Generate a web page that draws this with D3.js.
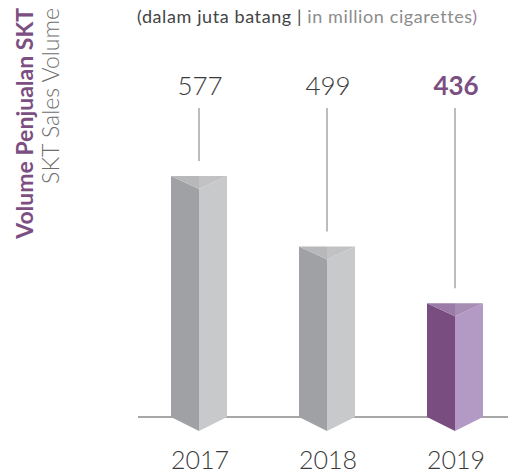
<!DOCTYPE html>
<html>
<head>
<meta charset="utf-8">
<script src="https://cdn.jsdelivr.net/npm/d3@7"></script>
<style>
  html, body { margin: 0; padding: 0; background: #fff; }
  svg { display: block; }
  text { font-family: Lato, "Open Sans", sans-serif; }
</style>
</head>
<body>
<svg id="chart" width="513" height="475"></svg>
<script>
const years = ["2017", "2018", "2019"];
const volumes = [577, 499, 436];
const highlight = [false, false, true];
const titleId = "Volume Penjualan SKT";
const titleEn = "SKT Sales Volume";
const unitId = "(dalam juta batang | ";
const unitEn = "in million cigarettes";

const svg = d3.select("#chart");
const baseY = 417;

const x = d3.scalePoint().domain(years).range([199, 455]);
const y = d3.scaleLinear().domain([310, 577]).range([baseY, 176]);

const half = 28, capDepth = 13, tipDepth = 14;

const palette = {
  grey: { left: "#a0a1a4", right: "#c8c9cb", topL: "#b7b8ba", topR: "#c2c2c4" },
  purple: { left: "#7a4d80", right: "#b39ac4", topL: "#9a7aa6", topR: "#a78cb4" }
};

svg.append("line")
  .attr("x1", 138).attr("x2", 508)
  .attr("y1", baseY).attr("y2", baseY)
  .attr("stroke", "#8a8a8a").attr("stroke-width", 1.5);

const data = years.map((yr, i) => ({ yr, v: volumes[i], hl: highlight[i] }));

const g = svg.selectAll("g.bar").data(data).enter().append("g").attr("class", "bar");

g.each(function(d) {
  const sel = d3.select(this);
  const cx = x(d.yr), top = y(d.v);
  const c = d.hl ? palette.purple : palette.grey;
  const l = cx - half, r = cx + half;
  sel.append("path")
    .attr("d", `M${l},${top} L${cx},${top + capDepth} L${cx},${baseY + tipDepth} L${l},${baseY} Z`)
    .attr("fill", c.left);
  sel.append("path")
    .attr("d", `M${cx},${top + capDepth} L${r},${top} L${r},${baseY} L${cx},${baseY + tipDepth} Z`)
    .attr("fill", c.right);
  sel.append("path")
    .attr("d", `M${l},${top} L${cx},${top} L${cx},${top + capDepth} Z`)
    .attr("fill", c.topL);
  sel.append("path")
    .attr("d", `M${cx},${top} L${r},${top} L${cx},${top + capDepth} Z`)
    .attr("fill", c.topR);
  sel.append("line")
    .attr("x1", cx).attr("x2", cx)
    .attr("y1", 108).attr("y2", top - 15)
    .attr("stroke", "#a6a6a6").attr("stroke-width", 1.5);
  sel.append("text")
    .attr("x", cx + 1).attr("y", 95)
    .attr("text-anchor", "middle")
    .attr("font-size", 26)
    .attr("font-weight", d.hl ? 700 : 300)
    .attr("fill", d.hl ? "#7b4f82" : "#3a3a3a")
    .text(d.v);
  sel.append("text")
    .attr("x", cx + 1).attr("y", 469)
    .attr("text-anchor", "middle")
    .attr("font-size", 25)
    .attr("font-weight", 300)
    .attr("fill", "#3a3a3a")
    .text(d.yr);
});

const sub = svg.append("text").attr("x", 137).attr("y", 23).attr("font-size", 18).attr("letter-spacing", 0.6);
sub.append("tspan").attr("fill", "#444").text(unitId);
sub.append("tspan").attr("fill", "#8c8c8c").text(unitEn);
sub.append("tspan").attr("fill", "#9c7fa3").text(")");

svg.append("text")
  .attr("transform", "translate(33,8) rotate(-90)")
  .attr("text-anchor", "end")
  .attr("font-size", 23)
  .attr("font-weight", 700)
  .attr("fill", "#7b4f82")
  .text(titleId);
svg.append("text")
  .attr("transform", "translate(59,8) rotate(-90)")
  .attr("text-anchor", "end")
  .attr("font-size", 23)
  .attr("font-weight", 300)
  .attr("fill", "#6e6e6e")
  .text(titleEn);
</script>
</body>
</html>
